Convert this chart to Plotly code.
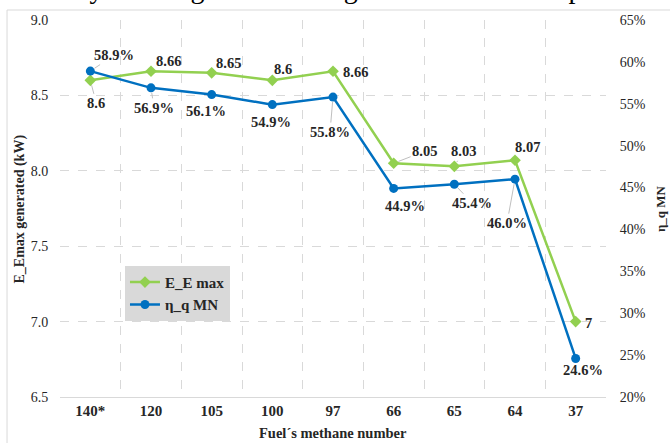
import plotly.graph_objects as go

# ---- data ----
categories = ["140*", "120", "105", "100", "97", "66", "65", "64", "37"]
e_max_kw = [8.6, 8.66, 8.65, 8.6, 8.66, 8.05, 8.03, 8.07, 7.0]
eta_q_mn = [0.589, 0.569, 0.561, 0.549, 0.558, 0.449, 0.454, 0.460, 0.246]
e_labels = ["8.6", "8.66", "8.65", "8.6", "8.66", "8.05", "8.03", "8.07", "7"]
left_ticks = [6.5, 7.0, 7.5, 8.0, 8.5, 9.0]
right_ticks = [0.20, 0.25, 0.30, 0.35, 0.40, 0.45, 0.50, 0.55, 0.60, 0.65]

# ---- label placement (pixel offsets) ----
e_off = [(6, 23, True), (17, -10, False), (17, -10, False), (11, -11, False), (22, 1, False),
         (31, -12, True), (9, -15, True), (12, -13, False), (13, 1, False)]
eta_off = [(24, -16, True), (3, 20, True), (-6, 16, False), (-1, 17, False), (-3, 35, True),
           (11, 18, False), (18, 19, True), (-8, 44, True), (7, 12, False)]

GREEN = "#92d050"
BLUE = "#0070c0"
FONT = "Liberation Serif, Times New Roman, serif"
TXT = "#262626"
GRID = "#d9d9d9"

fig = go.Figure()
fig.add_trace(go.Scatter(x=categories, y=e_max_kw, name="<b>E_E max</b>", mode="lines+markers",
                         line=dict(color=GREEN, width=2.5),
                         marker=dict(symbol="diamond", size=9, color=GREEN), yaxis="y"))
fig.add_trace(go.Scatter(x=categories, y=eta_q_mn, name="<b>η_q MN</b>", mode="lines+markers",
                         line=dict(color=BLUE, width=2.5),
                         marker=dict(symbol="circle", size=9, color=BLUE), yaxis="y2"))

ann = []
for i, (v, t, (dx, dy, lead)) in enumerate(zip(e_max_kw, e_labels, e_off)):
    ann.append(dict(x=i, y=v, xref="x", yref="y", text=f"<b>{t}</b>", showarrow=True,
                    ax=dx, ay=dy, arrowhead=0, arrowwidth=1, standoff=5,
                    arrowcolor="#bfbfbf" if lead else "rgba(0,0,0,0)",
                    font=dict(family=FONT, size=14.5, color=TXT)))
for i, (v, (dx, dy, lead)) in enumerate(zip(eta_q_mn, eta_off)):
    ann.append(dict(x=i, y=v, xref="x", yref="y2", text=f"<b>{v*100:.1f}%</b>", showarrow=True,
                    ax=dx, ay=dy, arrowhead=0, arrowwidth=1, standoff=5,
                    arrowcolor="#bfbfbf" if lead else "rgba(0,0,0,0)",
                    font=dict(family=FONT, size=14.5, color=TXT)))

# axis titles
ann.append(dict(text="<b>E_Emax generated (kW)</b>", xref="paper", yref="paper",
                x=-0.0733, y=0.5, xanchor="center", yanchor="middle", textangle=-90,
                showarrow=False, font=dict(family=FONT, size=14, color=TXT)))
ann.append(dict(text="<b>η_q MN</b>", xref="paper", yref="paper",
                x=1.1, y=0.5, xanchor="center", yanchor="middle", textangle=-90,
                showarrow=False, font=dict(family=FONT, size=13, color=TXT)))
ann.append(dict(text="<b>Fuel´s methane number</b>", xref="paper", yref="paper",
                x=0.5, y=-0.0955, xanchor="center", yanchor="middle",
                showarrow=False, font=dict(family=FONT, size=14.5, color=TXT)))
# cropped document text at the top
ann.append(dict(text="intensity is enough to reach high turbulent flame speeds.",
                xref="paper", yref="paper", x=-0.1, y=1.0, xanchor="left", yanchor="bottom",
                yshift=14, showarrow=False, font=dict(family=FONT, size=28, color="#000000")))

fig.update_layout(
    width=670, height=443,
    margin=dict(l=60, r=64, t=20, b=46),
    paper_bgcolor="white", plot_bgcolor="white",
    font=dict(family=FONT, size=14, color=TXT),
    annotations=ann,
    showlegend=True,
    legend=dict(x=0.119, y=0.348, xanchor="left", yanchor="top",
                bgcolor=GRID, borderwidth=0,
                font=dict(family=FONT, size=15, color=TXT),
                tracegroupgap=0, itemwidth=30),
    xaxis=dict(type="category", range=[-0.5, 8.5], autorange=False,
               tickson="boundaries", showgrid=True, gridcolor=GRID,
               griddash="dash", gridwidth=1, showline=True, linecolor=GRID, linewidth=1,
               ticks="", tickfont=dict(family=FONT, size=15, color=TXT),
               tickprefix="<b>", ticksuffix="</b>", zeroline=False),
    yaxis=dict(range=[6.5, 9.0], autorange=False, tickvals=left_ticks, tickformat=".1f",
               showgrid=True, gridcolor=GRID, griddash="dash", gridwidth=1,
               zeroline=False, showline=False,
               ticks="outside", ticklen=8, tickcolor="rgba(0,0,0,0)",
               tickprefix="<b>", ticksuffix="</b>",
               tickfont=dict(family=FONT, size=14, color=TXT)),
    yaxis2=dict(range=[0.20, 0.65], autorange=False, tickvals=right_ticks, tickformat=".0%",
                overlaying="y", side="right", showgrid=False, zeroline=False,
                ticks="outside", ticklen=10, tickcolor="rgba(0,0,0,0)",
                tickprefix="<b>", ticksuffix="</b>",
                tickfont=dict(family=FONT, size=14, color=TXT)),
    shapes=[dict(type="rect", xref="paper", yref="paper",
                 x0=-0.097, x1=1.3, y0=-0.3, y1=1.0265,
                 line=dict(color=GRID, width=1), fillcolor="rgba(0,0,0,0)", layer="below")],
)

fig.write_html("out.html", config={"displayModeBar": False},
               post_script="document.body.style.margin='0px';document.body.style.overflow='hidden';")
